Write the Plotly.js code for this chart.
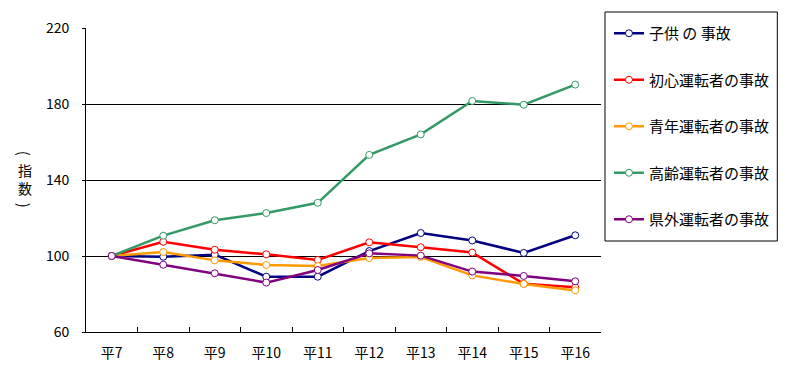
<!DOCTYPE html>
<html>
<head>
<meta charset="utf-8">
<script src="https://cdn.plot.ly/plotly-3.0.1.min.js"></script>
<style>html,body{margin:0;padding:0;background:#fff;}#chart{width:787px;height:382px;}</style>
</head>
<body>
<div id="chart"></div>
<script>
const categories = ["平7","平8","平9","平10","平11","平12","平13","平14","平15","平16"];
const seriesNames = ["子供 の 事故","初心運転者の事故","青年運転者の事故","高齢運転者の事故","県外運転者の事故"];
const kodomo  = [100, 99.6, 100.7, 89.1, 89.1, 102.6, 112.1, 108.2, 101.6, 110.9];
const shoshin = [100, 107.5, 103.3, 100.9, 97.9, 107.2, 104.6, 101.8, 85.4, 83.5];
const seinen  = [100, 102.1, 97.7, 95.3, 94.7, 98.9, 99.5, 89.8, 85.3, 81.9];
const kourei  = [100, 110.7, 118.8, 122.6, 128.0, 153.2, 164.0, 181.6, 179.6, 190.2];
const kengai  = [100, 95.4, 90.9, 86.0, 92.6, 101.4, 100.2, 91.8, 89.5, 86.7];
const yTicks = [60, 100, 140, 180, 220];

const colors = ["#000080", "#ff0000", "#ff9900", "#339966", "#800080"];
const values = [kodomo, shoshin, seinen, kourei, kengai];
const FONT = "'Noto Sans CJK JP', 'Noto Sans', sans-serif";

const traces = values.map((v, i) => ({
  type: "scatter",
  mode: "lines+markers",
  x: categories,
  y: v,
  name: seriesNames[i],
  legendgroup: "g" + i,
  line: {color: colors[i], width: 2.5},
  marker: {symbol: "circle", size: 7, color: "#ffffff", line: {color: colors[i], width: 1}},
  cliponaxis: false
}));

// plot area: x 86..603, y 28..332 (px)
const PW = 517, PH = 304, PL = 86, PB = 332;
const px = v => (v - PL) / PW;
const py = v => (PB - v) / PH;

const layout = {
  width: 787, height: 382,
  margin: {l: 86, r: 184, t: 28, b: 50},
  paper_bgcolor: "#ffffff", plot_bgcolor: "#ffffff",
  font: {family: FONT, size: 14, color: "#000"},
  showlegend: true,
  legend: {
    x: px(611), y: py(17), xanchor: "left", yanchor: "top",
    borderwidth: 0, bgcolor: "rgba(0,0,0,0)",
    font: {family: FONT, size: 15, color: "#000"},
    tracegroupgap: 24,
    itemwidth: 30,
    maxheight: 360
  },
  shapes: [{
    type: "rect", xref: "paper", yref: "paper",
    x0: px(607), x1: px(780), y0: py(241), y1: py(12),
    line: {color: "#000", width: 1}, fillcolor: "rgba(0,0,0,0)", layer: "below"
  }],
  xaxis: {
    type: "category",
    range: [-0.5, 9.5],
    tickson: "boundaries",
    ticks: "inside", ticklen: 5, tickcolor: "#000", tickwidth: 1,
    showline: true, linecolor: "#000", linewidth: 1,
    showgrid: false, zeroline: false,
    ticklabelstandoff: 8,
    tickfont: {family: FONT, size: 14, color: "#000"},
    fixedrange: true
  },
  yaxis: {
    range: [60, 220],
    tickvals: yTicks,
    ticktext: yTicks.map(String),
    ticks: "outside", ticklen: 3, tickcolor: "#000",
    showline: true, linecolor: "#000", linewidth: 1,
    showgrid: true, gridcolor: "#000", gridwidth: 1,
    zeroline: false,
    ticklabelstandoff: 10,
    tickfont: {family: FONT, size: 14, color: "#000"},
    fixedrange: true
  },
  annotations: [
    {xref: "paper", yref: "paper", x: px(25), y: py(153), xanchor: "center", yanchor: "middle",
     text: "(", textangle: 90, showarrow: false, font: {family: FONT, size: 15, color: "#000"}},
    {xref: "paper", yref: "paper", x: px(25), y: py(179), xanchor: "center", yanchor: "middle",
     text: "指<br>数", showarrow: false, font: {family: FONT, size: 14, color: "#000"}},
    {xref: "paper", yref: "paper", x: px(25), y: py(205), xanchor: "center", yanchor: "middle",
     text: ")", textangle: 90, showarrow: false, font: {family: FONT, size: 15, color: "#000"}}
  ]
};

Plotly.newPlot("chart", traces, layout, {displayModeBar: false, staticPlot: true});
</script>
</body>
</html>
